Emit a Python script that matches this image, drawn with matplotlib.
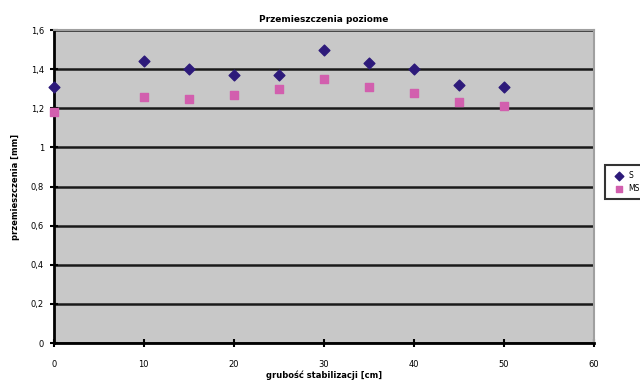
import matplotlib
matplotlib.use("Agg")
import matplotlib.pyplot as plt
from matplotlib.ticker import FuncFormatter

# grubość stabilizacji [cm]
grubosc = [0, 10, 15, 20, 25, 30, 35, 40, 45, 50]
# przemieszczenia [mm]
s_vals = [1.31, 1.44, 1.40, 1.37, 1.37, 1.50, 1.43, 1.40, 1.32, 1.31]
ms_vals = [1.18, 1.26, 1.25, 1.27, 1.30, 1.35, 1.31, 1.28, 1.23, 1.21]

fig = plt.figure(figsize=(6.4, 3.8), dpi=100)
ax = fig.add_axes([0.084, 0.097, 0.844, 0.824])
ax.set_facecolor("#c8c8c8")

ax.scatter(grubosc, s_vals, marker="D", s=30, color="#2d1a7a", label="S", zorder=3, clip_on=False)
ax.scatter(grubosc, ms_vals, marker="s", s=36, color="#d25fae", label="MS", zorder=3, clip_on=False)

ax.set_xlim(0, 60)
ax.set_ylim(0, 1.6)
ax.set_xticks(range(0, 61, 10))
ax.set_yticks([0, 0.2, 0.4, 0.6, 0.8, 1.0, 1.2, 1.4, 1.6])
ax.yaxis.set_major_formatter(FuncFormatter(lambda v, p: f"{v:g}".replace(".", ",")))
ax.grid(True, axis="y", color="#1a1a1a", linewidth=1.8)
ax.set_axisbelow(True)

for side in ["top", "right"]:
    ax.spines[side].set_color("#a0a0a0")
    ax.spines[side].set_linewidth(1.5)
ax.spines["left"].set_linewidth(2)
ax.spines["bottom"].set_linewidth(2)
ax.tick_params(direction="inout", length=6, width=1.5, labelsize=6, pad=4)
ax.tick_params(axis="x", pad=9)

ax.set_title("Przemieszczenia poziome", fontsize=6.5, fontweight="bold", pad=6)
ax.set_xlabel("grubość stabilizacji [cm]", fontsize=6, fontweight="bold", labelpad=1)
ax.set_ylabel("przemieszczenia [mm]", fontsize=6, fontweight="bold", labelpad=8)

leg = fig.legend(loc="center left", bbox_to_anchor=(0.942, 0.52), fontsize=5.5,
                 frameon=True, fancybox=False, edgecolor="black", handletextpad=0.2,
                 borderpad=0.8, borderaxespad=0.3, markerscale=0.8)
leg.get_frame().set_linewidth(1.5)

fig.savefig("out.png", dpi=100)
